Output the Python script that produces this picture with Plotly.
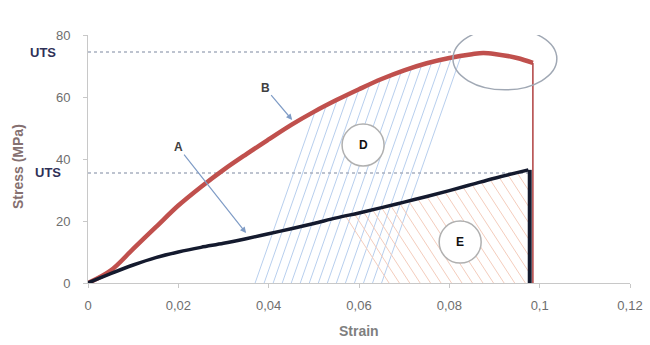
import numpy as np
import plotly.graph_objects as go

# ---------------- data ----------------
strain_B = [0, 0.005, 0.01, 0.015, 0.02, 0.025, 0.03, 0.035, 0.04, 0.045, 0.05, 0.055,
            0.06, 0.065, 0.07, 0.075, 0.08, 0.085, 0.0875, 0.09, 0.095, 0.0985]
stress_B = [0, 4, 11, 18, 25, 31, 36.5, 41.5, 46.3, 51, 55.2, 59,
            62.5, 65.8, 68.6, 70.9, 72.6, 73.8, 74.2, 73.9, 72.6, 71.0]
fail_B = 0.0985

strain_A = [0, 0.005, 0.01, 0.015, 0.02, 0.025, 0.03, 0.035, 0.04, 0.045, 0.05, 0.055,
            0.06, 0.065, 0.07, 0.075, 0.08, 0.085, 0.09, 0.0975]
stress_A = [0, 3, 5.8, 8.2, 10, 11.5, 12.8, 14.3, 15.9, 17.5, 19.2, 21,
            22.6, 24.3, 26.1, 27.9, 29.8, 31.8, 33.8, 36.5]
fail_A = 0.0978

uts_levels = [74.5, 35.5]
uts_ends = [0.081, 0.0975]

x_tick_vals = [0, 0.02, 0.04, 0.06, 0.08, 0.1, 0.12]
x_tick_text = ["0", "0,02", "0,04", "0,06", "0,08", "0,1", "0,12"]
y_tick_vals = [0, 20, 40, 60, 80]

# hatch region parameters (strain positions)
blue_hatch_starts = np.arange(0.037, 0.0655, 0.002)
orange_hatch_starts = np.arange(0.057, 0.0975, 0.002)

# ---------------- geometry helpers ----------------
ML, MR, MT, MB = 88, 20, 35, 62
W = 650 - ML - MR
H = 345 - MT - MB
px_x = W / 0.12
px_y = H / 80.0

kb = 0.35 * px_y / px_x   # strain shift per MPa for "/" hatching
ko = 0.65 * px_y / px_x   # strain shift per MPa for "\" hatching

bx, by = [], []
ys = np.linspace(0, 80, 4001)
for b in blue_hatch_starts:
    xs = b + kb * ys
    curve = np.interp(xs, strain_B, stress_B)
    idx = np.argmax(curve <= ys)
    bx += [b, xs[idx], None]
    by += [0, ys[idx], None]

ox, oy = [], []
for t in orange_hatch_starts:
    yt = float(np.interp(t, strain_A, stress_A))
    xb = t + ko * yt
    yb = 0.0
    if xb > fail_A:
        xb = fail_A
        yb = yt - (fail_A - t) / ko
    ox += [t, xb, None]
    oy += [yt, yb, None]

fig = go.Figure()

fig.add_trace(go.Scatter(x=bx, y=by, mode="lines", line=dict(color="#b8cfee", width=1),
                         hoverinfo="skip", showlegend=False))
fig.add_trace(go.Scatter(x=ox, y=oy, mode="lines", line=dict(color="#f4cdbd", width=1),
                         hoverinfo="skip", showlegend=False))

for lvl, end in zip(uts_levels, uts_ends):
    fig.add_trace(go.Scatter(x=[0, end], y=[lvl, lvl], mode="lines",
                             line=dict(color="#a8b0c0", width=1.5, dash="dot"),
                             hoverinfo="skip", showlegend=False))

# curve B (red)
fig.add_trace(go.Scatter(x=strain_B, y=stress_B, mode="lines",
                         line=dict(color="#c0504d", width=4.5, shape="spline"),
                         showlegend=False))
fig.add_trace(go.Scatter(x=[fail_B, fail_B], y=[stress_B[-1], 0], mode="lines",
                         line=dict(color="#b04040", width=1.5), showlegend=False))
# curve A (black)
fig.add_trace(go.Scatter(x=strain_A, y=stress_A, mode="lines",
                         line=dict(color="#141a2e", width=3.5, shape="spline"),
                         showlegend=False))
fig.add_trace(go.Scatter(x=[fail_A, fail_A], y=[stress_A[-1], 0], mode="lines",
                         line=dict(color="#141a2e", width=4), showlegend=False))

shapes = [
    dict(type="circle", xref="x", yref="y", x0=0.0808, x1=0.1038, y0=62.3, y1=82.3,
         line=dict(color="#a0a8b4", width=1.5)),
    dict(type="circle", xref="x", yref="y", xsizemode="pixel", ysizemode="pixel",
         xanchor=0.0609, yanchor=44.5, x0=-21, x1=21, y0=-21, y1=21,
         fillcolor="white", line=dict(color="#b0b0b0", width=1.5)),
    dict(type="circle", xref="x", yref="y", xsizemode="pixel", ysizemode="pixel",
         xanchor=0.0824, yanchor=13.2, x0=-21, x1=21, y0=-21, y1=21,
         fillcolor="white", line=dict(color="#b0b0b0", width=1.5)),
]

lbl_font = dict(family="Liberation Sans", size=12, color="#404040")
arrow = dict(showarrow=True, arrowhead=2, arrowsize=1, arrowwidth=1.2, arrowcolor="#7f9cc6")
annotations = [
    dict(x=0.035, y=16.1, xref="x", yref="y", ax=-68, ay=-86, text="<b>A</b>", font=lbl_font, **arrow),
    dict(x=0.0452, y=52.6, xref="x", yref="y", ax=-27, ay=-32, text="<b>B</b>", font=lbl_font, **arrow),
    dict(x=0.1007, y=80.6, xref="x", yref="y", ax=32, ay=-25, text="<b>C</b>", font=lbl_font, **arrow),
    dict(x=0.0609, y=44.5, xref="x", yref="y", text="<b>D</b>", showarrow=False,
         font=dict(family="Liberation Sans", size=12, color="#111")),
    dict(x=0.0824, y=13.2, xref="x", yref="y", text="<b>E</b>", showarrow=False,
         font=dict(family="Liberation Sans", size=12, color="#111")),
    dict(x=0, y=uts_levels[0], xref="x", yref="y", xanchor="right", xshift=-30, text="<b>UTS</b>",
         showarrow=False, font=dict(family="Liberation Sans", size=13, color="#2f3057")),
    dict(x=0, y=uts_levels[1], xref="x", yref="y", xanchor="right", xshift=-25, text="<b>UTS</b>",
         showarrow=False, font=dict(family="Liberation Sans", size=13, color="#2f3057")),
    dict(x=-0.129, y=0.468, xref="paper", yref="paper", xanchor="center", yanchor="middle",
         text="<b>Stress (MPa)</b>", textangle=-90,
         showarrow=False, font=dict(family="Liberation Sans", size=14, color="#857070")),
    dict(x=0.5, y=-0.194, xref="paper", yref="paper", xanchor="center", yanchor="middle",
         text="<b>Strain</b>",
         showarrow=False, font=dict(family="Liberation Sans", size=14, color="#7f7f7f")),
]

axis_common = dict(showgrid=False, zeroline=False, showline=True, linecolor="#c8c8c8", linewidth=1,
                   ticks="outside", ticklen=4, tickcolor="#c8c8c8", automargin=False,
                   tickfont=dict(family="Liberation Sans", size=13, color="#6e6e6e"))

fig.update_layout(
    width=650, height=345,
    margin=dict(l=ML, r=MR, t=MT, b=MB, autoexpand=False),
    paper_bgcolor="white", plot_bgcolor="white",
    showlegend=False,
    xaxis=dict(range=[0, 0.12], tickvals=x_tick_vals, ticktext=x_tick_text,
               ticklabelstandoff=6, **axis_common),
    yaxis=dict(range=[0, 80], tickvals=y_tick_vals, ticklabelstandoff=10, **axis_common),
    shapes=shapes,
    annotations=annotations,
)

fig.write_html("out.html", config={"displayModeBar": False},
               post_script="document.body.style.margin='0';document.body.style.overflow='hidden';")
